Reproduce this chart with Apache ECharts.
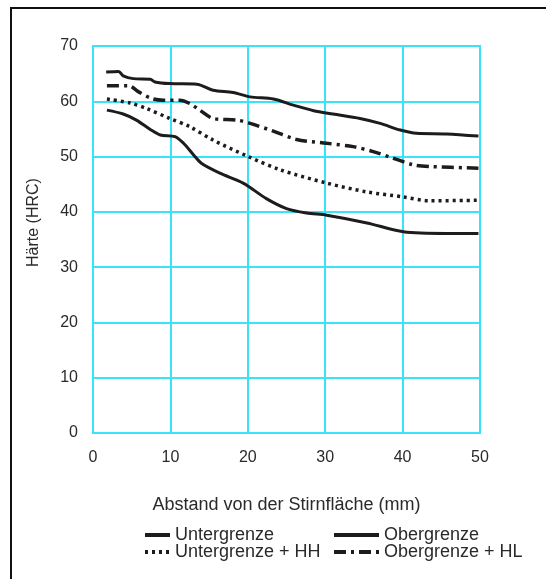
<!DOCTYPE html>
<html>
<head>
<meta charset="utf-8">
<script src="https://cdn.jsdelivr.net/npm/echarts@6/dist/echarts.min.js"></script>
<style>
  html, body { margin: 0; padding: 0; background: #fff; }
  #chart { width: 546px; height: 579px; }
</style>
</head>
<body>
<div id="chart"></div>
<script>
// Härteverlauf (Stirnabschreckversuch), Werte

var yTicks = [0, 10, 20, 30, 40, 50, 60, 70];
var xTicks = [0, 10, 20, 30, 40, 50];

// Obergrenze
var oberX = [1.7, 3.3, 3.9, 5.2, 7.4, 8.0, 9.9, 13.4, 15.5, 18.1, 20.3, 23.3, 25.9, 28.5, 31.0, 34.5, 37.1, 39.7, 41.8, 45.7, 49.8];
var oberY = [65.3, 65.4, 64.6, 64.1, 64.0, 63.5, 63.2, 63.1, 62.0, 61.6, 60.8, 60.4, 59.3, 58.3, 57.7, 56.9, 56.0, 54.8, 54.2, 54.1, 53.7];

// Obergrenze + HL
var oberHLX = [1.8, 4.6, 5.9, 7.6, 9.1, 11.2, 12.5, 13.8, 15.5, 18.6, 20.3, 23.3, 26.3, 30.2, 33.6, 36.2, 38.8, 41.4, 43.5, 49.8];
var oberHLY = [62.8, 62.8, 61.7, 60.5, 60.2, 60.2, 59.6, 58.4, 56.9, 56.6, 56.0, 54.6, 53.1, 52.4, 51.8, 50.9, 49.7, 48.5, 48.2, 47.9];

// Untergrenze + HH
var unterHHX = [1.8, 4.8, 6.9, 9.9, 12.5, 15.5, 19.9, 24.2, 30.2, 35.4, 40.1, 43.5, 49.8];
var unterHHY = [60.4, 59.7, 58.7, 56.9, 55.4, 53.0, 50.1, 47.6, 45.2, 43.6, 42.7, 42.0, 42.1];

// Untergrenze
var unterX = [1.8, 3.9, 5.6, 7.4, 8.7, 10.6, 11.7, 13.0, 14.0, 16.4, 19.4, 22.4, 25.0, 27.6, 30.2, 35.4, 40.1, 45.7, 49.8];
var unterY = [58.4, 57.7, 56.6, 54.9, 53.9, 53.6, 52.4, 50.3, 48.8, 47.0, 45.2, 42.4, 40.6, 39.8, 39.4, 38.0, 36.4, 36.1, 36.1];

function pairs(xs, ys) {
    var out = [];
    for (var i = 0; i < xs.length; i++) {
        out.push([xs[i], ys[i]]);
    }
    return out;
}

var gridColor = '#3ae4f8';
var lineColor = '#1c1c1c';
var textColor = '#2a2a2a';

var myChart = echarts.init(document.getElementById('chart'), null, { renderer: 'canvas' });

function lineSeries(name, data, type, width) {
    return {
        name: name,
        type: 'line',
        data: data,
        smooth: 0.3,
        symbol: 'none',
        lineStyle: { color: lineColor, width: width, type: type },
        itemStyle: { color: lineColor },
        z: 5
    };
}

// beide Legendenspalten gleich, nur Position und Strichlänge verschieden
function legendCol(left, w, names) {
    return {
        orient: 'vertical',
        left: left, top: 526,
        padding: 0,
        itemWidth: w, itemHeight: 12, itemGap: -1,
        itemStyle: { opacity: 0 },
        lineStyle: { width: 4 },
        textStyle: { fontSize: 18, color: textColor },
        data: names
    };
}

var option = {
    backgroundColor: '#fff',
    animation: false,
    textStyle: { fontFamily: 'Liberation Sans, Arial, sans-serif' },
    graphic: [{
        type: 'rect',
        shape: { x: 11, y: 8, width: 620, height: 620 },
        style: { fill: 'none', stroke: '#111', lineWidth: 2 },
        silent: true
    }],
    grid: {
        left: 93, right: 66, top: 46, bottom: 146,
        show: true,
        borderColor: gridColor,
        borderWidth: 2
    },
    xAxis: {
        type: 'value',
        min: 0, max: 50, interval: 10,
        name: 'Abstand von der Stirnfläche (mm)',
        nameLocation: 'middle',
        nameGap: 63,
        nameTextStyle: { fontSize: 18, color: textColor },
        axisLine: { show: true, lineStyle: { color: gridColor, width: 2 } },
        axisTick: { show: false },
        splitLine: { show: true, lineStyle: { color: gridColor, width: 2 } },
        axisLabel: {
            fontSize: 16, color: textColor, margin: 17,
            formatter: function (v) { return xTicks.indexOf(v) >= 0 ? String(v) : ''; }
        }
    },
    yAxis: {
        type: 'value',
        min: 0, max: 70, interval: 10,
        name: 'Härte (HRC)',
        nameLocation: 'middle',
        nameGap: 51,
        nameTextStyle: { fontSize: 16, color: textColor, padding: [0, 0, 0, 34] },
        axisLine: { show: true, lineStyle: { color: gridColor, width: 2 } },
        axisTick: { show: false },
        splitLine: { show: true, lineStyle: { color: gridColor, width: 2 } },
        axisLabel: {
            fontSize: 16, color: textColor, margin: 15,
            formatter: function (v) { return yTicks.indexOf(v) >= 0 ? String(v) : ''; }
        }
    },
    legend: [
        legendCol(143, 25, ['Untergrenze', 'Untergrenze + HH']),
        legendCol(332, 45, ['Obergrenze', 'Obergrenze + HL'])
    ],
    series: [
        lineSeries('Untergrenze', pairs(unterX, unterY), 'solid', 3),
        lineSeries('Obergrenze', pairs(oberX, oberY), 'solid', 3),
        lineSeries('Untergrenze + HH', pairs(unterHHX, unterHHY), [3, 4], 3.5),
        lineSeries('Obergrenze + HL', pairs(oberHLX, oberHLY), [12, 5, 3, 5], 3.5)
    ]
};

myChart.setOption(option);
</script>
</body>
</html>
